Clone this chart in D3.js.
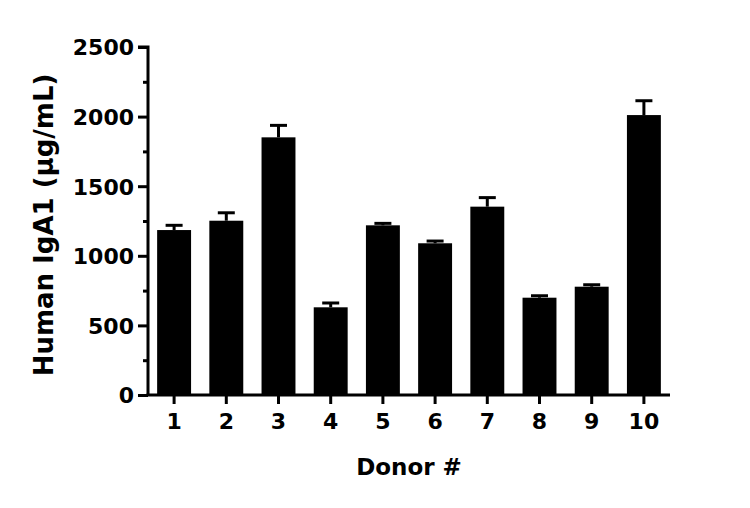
<!DOCTYPE html>
<html><head><meta charset="utf-8">
<script src="https://cdn.jsdelivr.net/npm/d3@7"></script>
<style>body{margin:0;background:#fff}</style>
</head><body>
<script>
const categories = ["1","2","3","4","5","6","7","8","9","10"];
const means = [1185, 1252, 1851, 630, 1219, 1090, 1353, 699, 778, 2011];
const errors = [34, 57, 86, 31, 14, 16, 65, 14, 14, 103];
const yTicks = [0, 500, 1000, 1500, 2000, 2500];
const yMinorTicks = [250, 750, 1250, 1750, 2250];
const xTitle = "Donor #";
const yTitle = "Human IgA1 (µg/mL)";

const W = 750, H = 508;
const m = {left: 148, right: 80, top: 47, bottom: 113};
const svg = d3.select("body").append("svg").attr("width", W).attr("height", H);
const font = "'DejaVu Sans', sans-serif";

const x = d3.scaleBand().domain(categories).range([m.left, W - m.right]).paddingInner(0.35).paddingOuter(0.175);
const y = d3.scaleLinear().domain([0, 2500]).range([H - m.bottom, m.top]);

const g = svg.append("g");
g.selectAll("rect.bar").data(categories).join("rect")
  .attr("x", d => x(d)).attr("width", x.bandwidth())
  .attr("y", (d, i) => y(means[i])).attr("height", (d, i) => y(0) - y(means[i]))
  .attr("fill", "#000");
const eb = g.selectAll("g.eb").data(categories).join("g");
eb.append("line")
  .attr("x1", d => x(d) + x.bandwidth() / 2).attr("x2", d => x(d) + x.bandwidth() / 2)
  .attr("y1", (d, i) => y(means[i])).attr("y2", (d, i) => y(means[i] + errors[i]))
  .attr("stroke", "#000").attr("stroke-width", 3);
eb.append("line")
  .attr("x1", d => x(d) + x.bandwidth() / 2 - 8.5).attr("x2", d => x(d) + x.bandwidth() / 2 + 8.5)
  .attr("y1", (d, i) => y(means[i] + errors[i])).attr("y2", (d, i) => y(means[i] + errors[i]))
  .attr("stroke", "#000").attr("stroke-width", 3);

const ya = svg.append("g").attr("transform", `translate(${m.left},0)`)
  .call(d3.axisLeft(y).tickValues(yTicks).tickSize(10).tickPadding(4).tickFormat(d3.format("d")));
svg.append("g").attr("transform", `translate(${m.left},0)`)
  .call(d3.axisLeft(y).tickValues(yMinorTicks).tickSize(5).tickFormat(""))
  .call(s => s.select(".domain").remove());
const xa = svg.append("g").attr("transform", `translate(0,${y(0)})`)
  .call(d3.axisBottom(x).tickSize(9).tickPadding(8).tickSizeOuter(0));

svg.selectAll(".domain").attr("stroke-width", 3).attr("stroke", "#000");
svg.selectAll(".tick line").attr("stroke-width", 3).attr("stroke", "#000");
ya.select(".domain").attr("d", `M-10,${y(2500)}H0V${y(0)}H0`);
xa.select(".domain").attr("d", `M${m.left - 1.5},0H${W - m.right}`);
svg.selectAll(".tick text").attr("font-family", font).attr("font-weight", "bold")
  .attr("font-size", 22).attr("fill", "#000");
ya.selectAll(".tick text").attr("dy", "0.36em");
xa.selectAll(".tick text").attr("dy", "0.75em");

svg.append("text").attr("x", (m.left + W - m.right) / 2).attr("y", 475)
  .attr("text-anchor", "middle").attr("font-family", font).attr("font-weight", "bold")
  .attr("font-size", 23).text(xTitle);
svg.append("text").attr("transform", `translate(53,225) rotate(-90)`)
  .attr("text-anchor", "middle").attr("font-family", font).attr("font-weight", "bold")
  .attr("font-size", 26).text(yTitle);
</script>
</body></html>
